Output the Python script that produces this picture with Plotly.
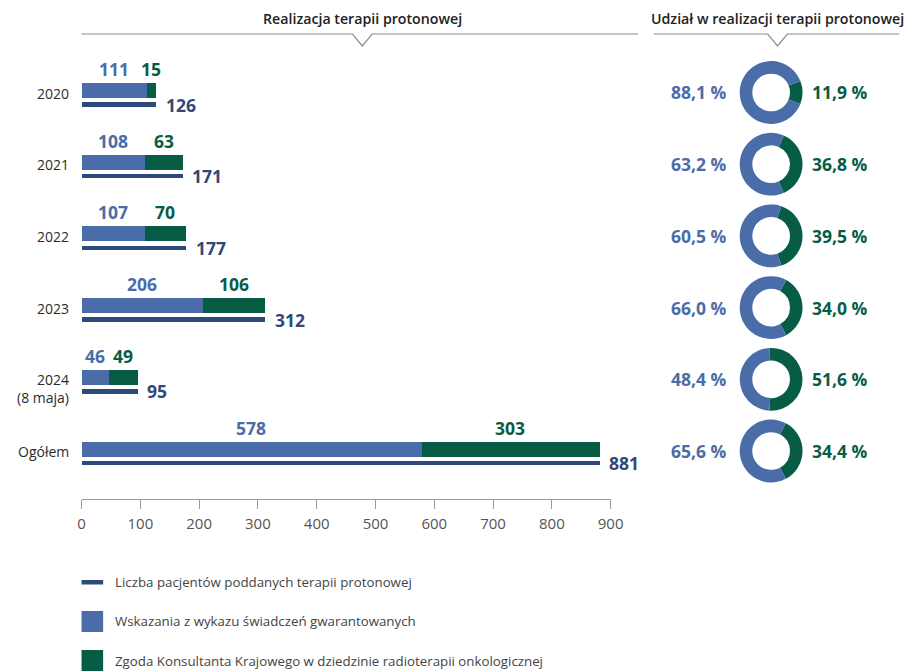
import plotly.graph_objects as go

# Data
categories = ["2020", "2021", "2022", "2023", "2024<br>(8 maja)", "Ogółem"]
wskazania = [111, 108, 107, 206, 46, 578]      # wskazania z wykazu świadczeń gwarantowanych
zgoda = [15, 63, 70, 106, 49, 303]             # zgoda Konsultanta Krajowego
ogolem = [126, 171, 177, 312, 95, 881]         # liczba pacjentów ogółem
udzial_wsk = [88.1, 63.2, 60.5, 66.0, 48.4, 65.6]
udzial_zgoda = [11.9, 36.8, 39.5, 34.0, 51.6, 34.4]
x_ticks = [0, 100, 200, 300, 400, 500, 600, 700, 800, 900]

legend_labels = [
    "Liczba pacjentów poddanych terapii protonowej",
    "Wskazania z wykazu świadczeń gwarantowanych",
    "Zgoda Konsultanta Krajowego w dziedzinie radioterapii onkologicznej",
]

BLUE = "#4A6CA8"
GREEN = "#075C45"
NAVY = "#2E4A78"
GREY_LINE = "#8C8C8C"
FONT = "Open Sans"

W, H = 924, 671
AXIS_Y = 499          # pixel row of the x axis line
ROW0, STEP = 90.5, 71.7


def fx(px):
    return px / W


def fy(py):
    return 1 - py / H


def pct(v):
    return f"{v:.1f}".replace(".", ",") + " %"


def note(**kw):
    kw.setdefault("showarrow", False)
    kw.setdefault("xanchor", "center")
    kw.setdefault("yanchor", "middle")
    return dict(**kw)


n = len(categories)
y_stack = [ROW0 + STEP * i for i in range(n)]
y_thin = [y + 14 for y in y_stack]

fig = go.Figure()

fig.add_trace(go.Bar(orientation="h", x=wskazania, y=y_stack, base=0, width=15,
                     marker=dict(color=BLUE, line_width=0), hoverinfo="skip"))
fig.add_trace(go.Bar(orientation="h", x=zgoda, y=y_stack, base=wskazania, width=15,
                     marker=dict(color=GREEN, line_width=0), hoverinfo="skip"))
fig.add_trace(go.Bar(orientation="h", x=ogolem, y=y_thin, base=0, width=4.5,
                     marker=dict(color=NAVY, line_width=0), hoverinfo="skip"))

annotations = []
for i in range(n):
    lines = categories[i].count("<br>") + 1
    annotations.append(note(xref="paper", yref="y", x=fx(68), y=y_stack[i] + 2.5,
                            text=categories[i], xanchor="right", align="right",
                            yshift=-(lines - 1) * 8.5,
                            font=dict(family=FONT, size=14, color="#2b2b2b")))
    annotations.append(note(xref="x", yref="y", x=wskazania[i] / 2, y=y_stack[i] - 21.5,
                            text=f"<b>{wskazania[i]}</b>",
                            font=dict(family=FONT, size=17.5, color=BLUE)))
    annotations.append(note(xref="x", yref="y", x=wskazania[i] + zgoda[i] / 2,
                            y=y_stack[i] - 21.5, text=f"<b>{zgoda[i]}</b>",
                            font=dict(family=FONT, size=17.5, color=GREEN)))
    annotations.append(note(xref="x", yref="y", x=ogolem[i], y=y_thin[i],
                            text=f"<b>{ogolem[i]}</b>", xanchor="left", xshift=8,
                            font=dict(family=FONT, size=17.5, color=NAVY)))

# Donuts with share labels
DX, R = 781.5, 32
for i in range(n):
    cy = y_stack[i] + 2
    g = udzial_zgoda[i] / 100
    fig.add_trace(go.Pie(values=[udzial_zgoda[i], udzial_wsk[i]],
                         marker=dict(colors=[GREEN, BLUE], line_width=0),
                         hole=0.6, sort=False, direction="clockwise",
                         rotation=90 - g * 180, textinfo="none", hoverinfo="skip",
                         domain=dict(x=[fx(DX - R), fx(DX + R)],
                                     y=[fy(cy + R), fy(cy - R)])))
    annotations.append(note(xref="paper", yref="paper", x=fx(739), y=fy(cy),
                            text=f"<b>{pct(udzial_wsk[i])}</b>", xanchor="right",
                            font=dict(family=FONT, size=17.5, color=BLUE)))
    annotations.append(note(xref="paper", yref="paper", x=fx(821), y=fy(cy),
                            text=f"<b>{pct(udzial_zgoda[i])}</b>", xanchor="left",
                            font=dict(family=FONT, size=17.5, color=GREEN)))

# Section headers with notched rules
shapes = []
headers = [("Realizacja terapii protonowej", 79, 646, 365),
           ("Udział w realizacji terapii protonowej", 662, 912, 788)]
for text, x0, x1, xc in headers:
    annotations.append(note(xref="paper", yref="paper", x=fx(xc), y=fy(18), text=text,
                            font=dict(family=FONT, size=14.2, color="#222222",
                                      weight=600)))
    path = (f"M {fx(x0)},{fy(34)} L {fx(xc - 10)},{fy(34)} L {fx(xc)},{fy(46)} "
            f"L {fx(xc + 10)},{fy(34)} L {fx(x1)},{fy(34)}")
    shapes.append(dict(type="path", xref="paper", yref="paper", path=path,
                       line=dict(color=GREY_LINE, width=1.2)))

# Legend
legend_y = [582, 621, 660.5]
shapes.append(dict(type="rect", xref="paper", yref="paper", x0=fx(79), x1=fx(101),
                   y0=fy(584.5), y1=fy(580), fillcolor=NAVY, line_width=0))
shapes.append(dict(type="rect", xref="paper", yref="paper", x0=fx(79), x1=fx(101),
                   y0=fy(632), y1=fy(611), fillcolor=BLUE, line_width=0))
shapes.append(dict(type="rect", xref="paper", yref="paper", x0=fx(79), x1=fx(101),
                   y0=fy(671), y1=fy(650), fillcolor=GREEN, line_width=0))
for label, ly in zip(legend_labels, legend_y):
    annotations.append(note(xref="paper", yref="paper", x=fx(111), y=fy(ly),
                            text=label, xanchor="left",
                            font=dict(family=FONT, size=13.3, color="#444444")))

fig.update_layout(
    width=W, height=H, margin=dict(l=0, r=0, t=0, b=0),
    paper_bgcolor="white", plot_bgcolor="white",
    barmode="overlay", showlegend=False, bargap=0,
    xaxis=dict(domain=[fx(79), fx(618)], range=[0, 900], tickvals=x_ticks,
               showgrid=False, zeroline=False, showline=True, linecolor="#9a9a9a",
               linewidth=1.2, ticks="outside", ticklen=9, tickcolor="#9a9a9a",
               tickwidth=1.2, ticklabelstandoff=2,
               tickfont=dict(family=FONT, size=15, color="#555555"), fixedrange=True),
    yaxis=dict(domain=[fy(AXIS_Y), 1], range=[AXIS_Y, 0], visible=False,
               fixedrange=True),
    annotations=annotations, shapes=shapes,
)

fig.write_html("out.html")
